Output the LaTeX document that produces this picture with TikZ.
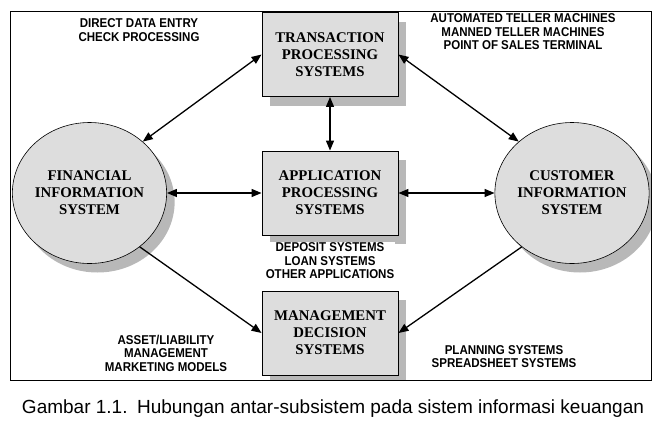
\documentclass[tikz,border=0pt]{standalone}
\usepackage{fontspec}
\setmainfont{Liberation Serif}
\newfontfamily\lblfont{Liberation Sans}
\newfontfamily\lblnarrow[FakeStretch=0.9]{Liberation Sans}
\usetikzlibrary{shapes.geometric,arrows.meta,shadows}
\definecolor{boxgray}{HTML}{DDDDDD}
\definecolor{shadowgray}{HTML}{B8B8B8}
\begin{document}
\begin{tikzpicture}[x=1pt,y=-1pt,
  shadowed/.style={drop shadow={shadow xshift=8pt,shadow yshift=-9pt,fill=shadowgray,opacity=1}},
  sysbox/.style={rectangle,draw=black,line width=0.9pt,fill=boxgray,minimum width=136pt,minimum height=84pt,inner sep=0pt,align=center,font=\fontsize{14.8}{17}\selectfont\bfseries,shadowed},
  syscirc/.style={ellipse,draw=black,line width=0.6pt,fill=boxgray,minimum width=153pt,minimum height=141pt,inner sep=0pt,align=center,font=\fontsize{14.8}{17}\selectfont\bfseries,shadowed},
  lbl/.style={font=\lblnarrow\bfseries\fontsize{12.8}{13.5}\selectfont,align=center,inner sep=1pt},
  conn/.style={line width=1.3pt,-{Triangle[length=10pt,width=8pt]}},
  biconn/.style={line width=1.3pt,{Triangle[length=10pt,width=8pt]}-{Triangle[length=10pt,width=8pt]}},
]
\useasboundingbox (0,0) rectangle (662,429);
\begin{scope}
\clip (10,11) rectangle (651,380);
\node[sysbox] (tps) at (330,54.5) {TRANSACTION\\PROCESSING\\SYSTEMS};
\node[sysbox] (aps) at (330,193) {APPLICATION\\PROCESSING\\SYSTEMS};
\node[sysbox] (mds) at (330,333) {MANAGEMENT\\DECISION\\SYSTEMS};
\node[syscirc] (fis) at (89.5,193) {FINANCIAL\\INFORMATION\\SYSTEM};
\node[syscirc] (cis) at (572,193) {CUSTOMER\\INFORMATION\\SYSTEM};

\node[lbl] (l1) at (139,30) {DIRECT DATA ENTRY\\CHECK PROCESSING};
\node[lbl] (l2) at (523,32) {AUTOMATED TELLER MACHINES\\MANNED TELLER MACHINES\\POINT OF SALES TERMINAL};
\node[lbl,fill=white] (l3) at (330,261) {DEPOSIT SYSTEMS\\LOAN SYSTEMS\\OTHER APPLICATIONS};
\node[lbl] (l4) at (166,353) {ASSET/LIABILITY\\MANAGEMENT\\MARKETING MODELS};
\node[lbl] (l5) at (504,356.5) {PLANNING SYSTEMS\\SPREADSHEET SYSTEMS};

\draw[biconn] (fis.44) -- (tps.west);
\draw[biconn] (tps.east) -- (cis.136);
\draw[biconn] (tps.south) -- (aps.north);
\draw[biconn] (fis.east) -- (aps.west);
\draw[biconn] (aps.east) -- (cis.west);
\draw[conn] (fis.-47) -- (mds.west);
\draw[conn] (cis.-133) -- (mds.east);
\end{scope}
\node[draw=black,line width=1pt,minimum width=641pt,minimum height=369pt,inner sep=0pt] (frame) at (330.5,195.5) {};
\node[font=\lblfont\fontsize{19}{22}\selectfont,inner sep=0pt] (cap) at (333,409) {Gambar 1.1.\hspace{0.5em}Hubungan antar-subsistem pada sistem informasi keuangan};
\end{tikzpicture}
\end{document}
